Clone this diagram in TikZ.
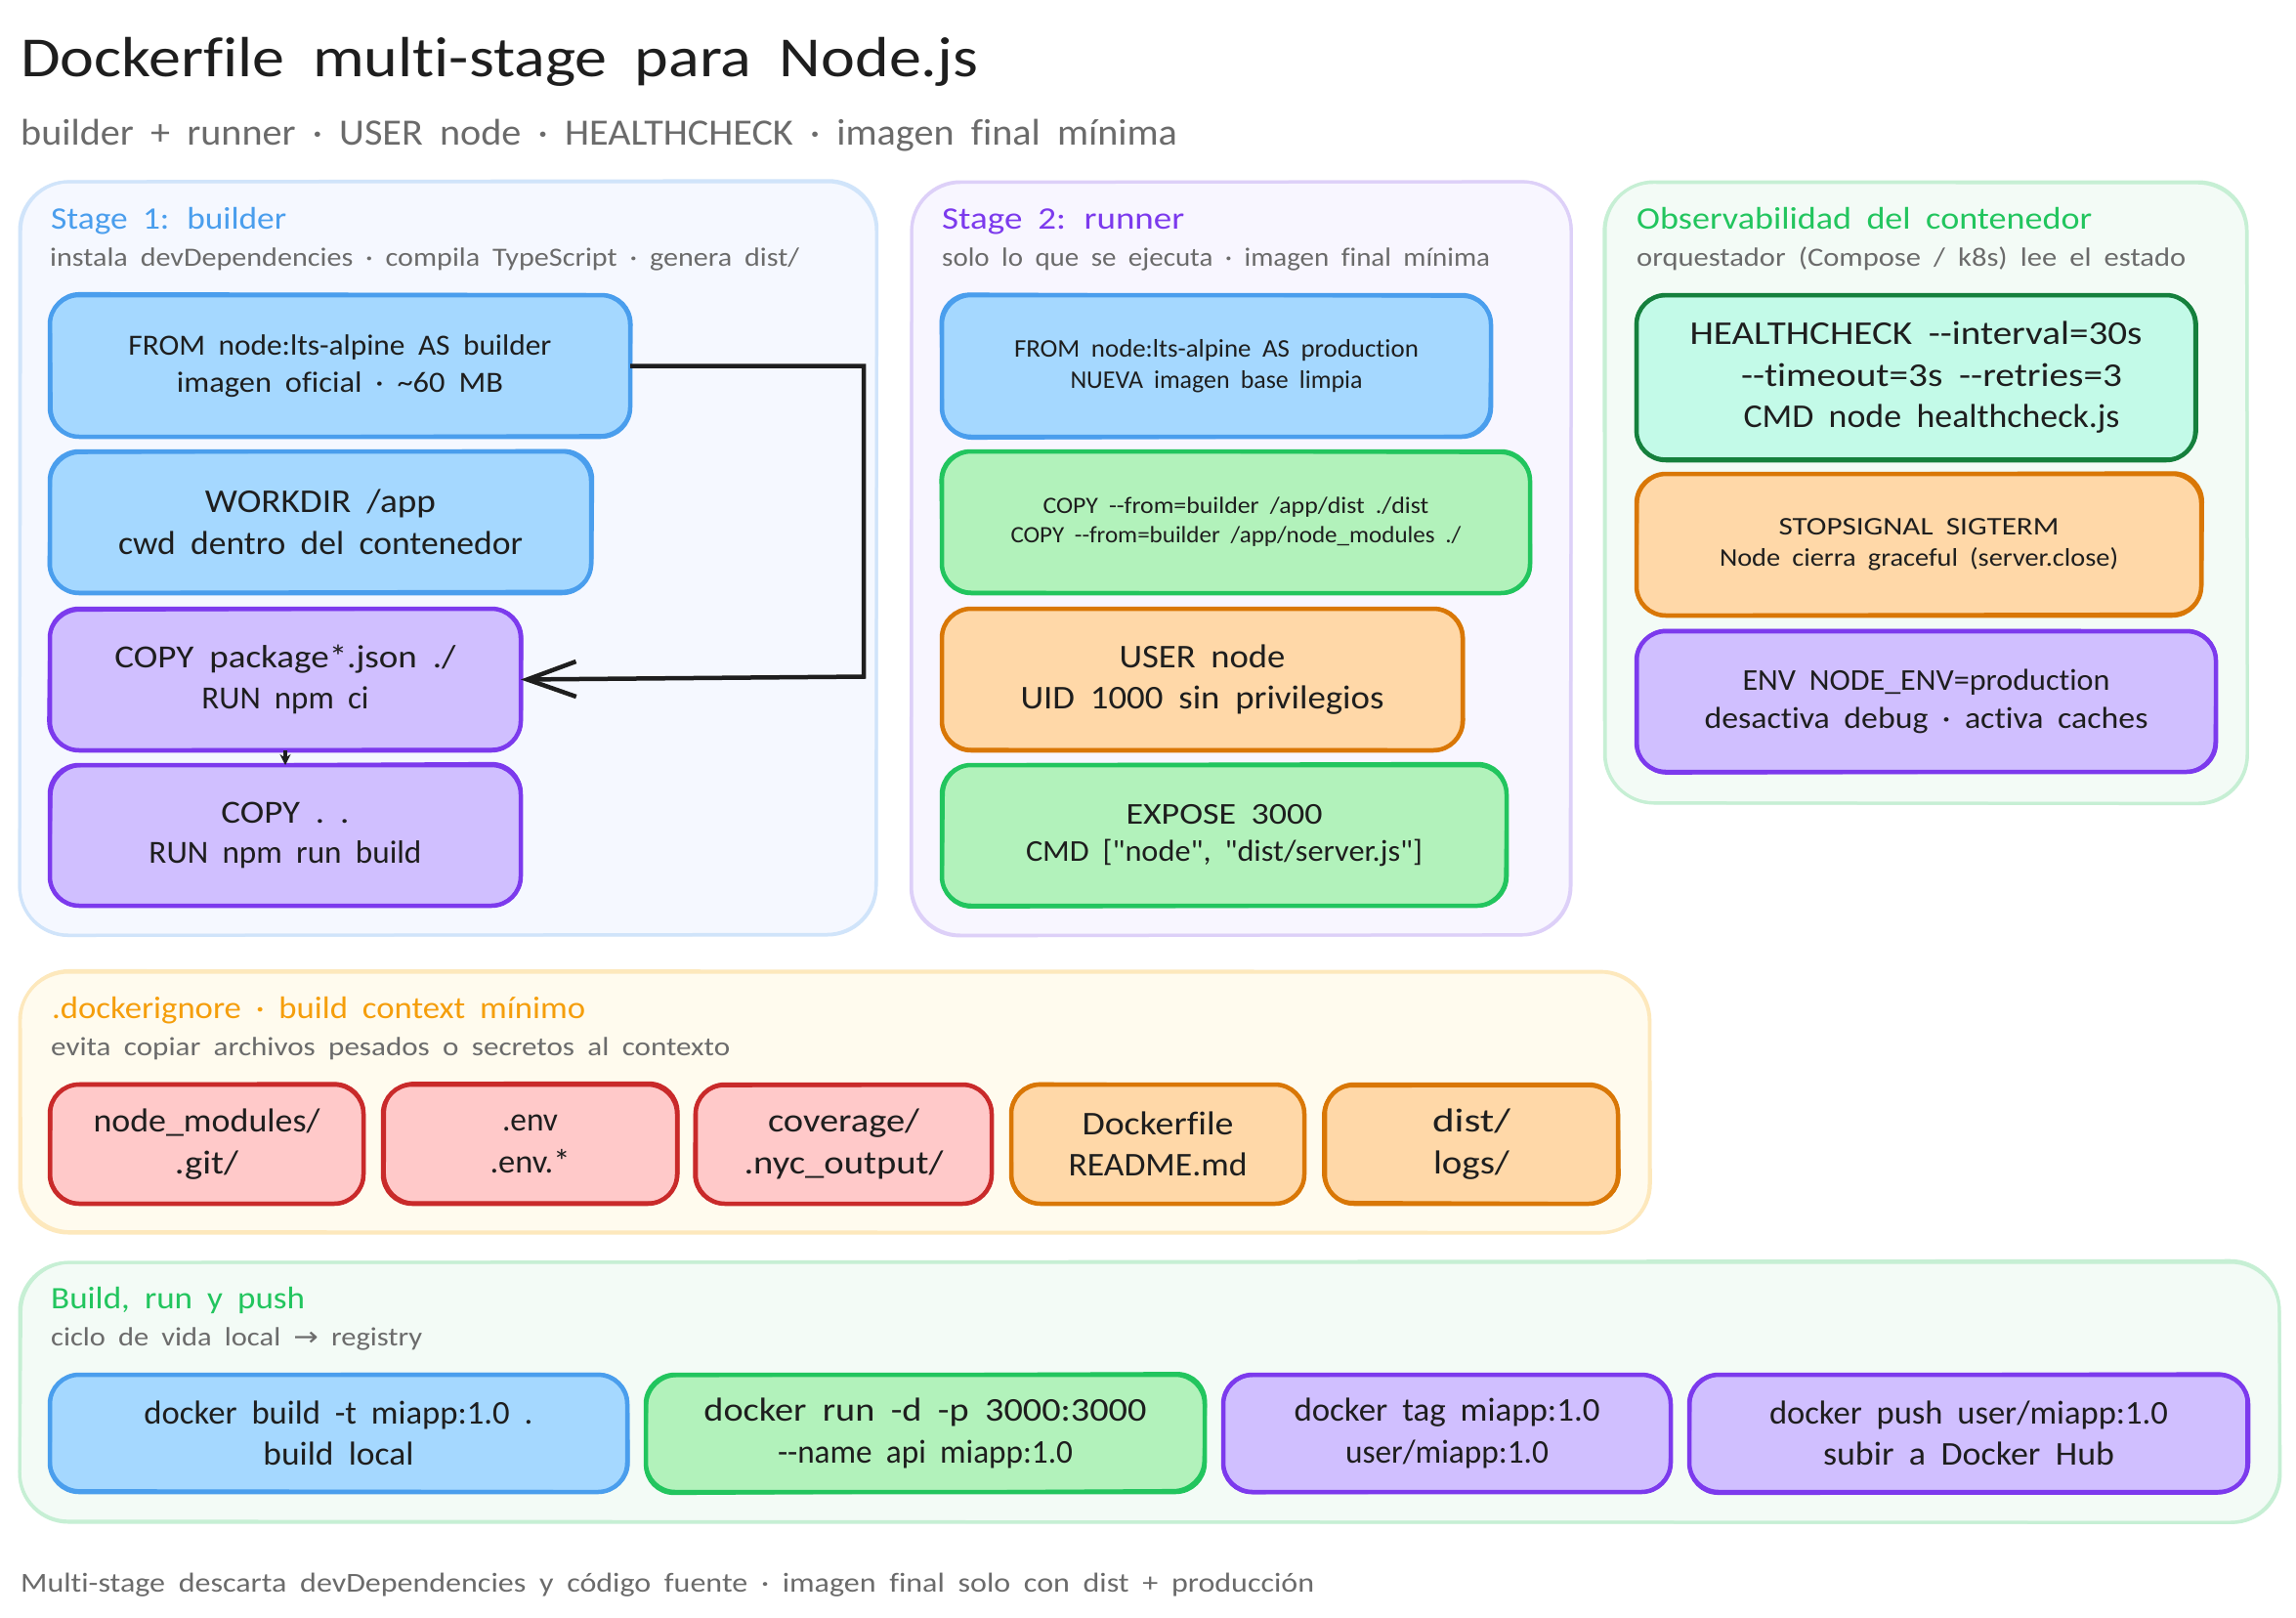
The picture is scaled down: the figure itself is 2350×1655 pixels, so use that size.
\documentclass[tikz,border=0pt]{standalone}
\usepackage{graphicx}
\usepackage{fontspec}
\usetikzlibrary{arrows.meta}
\setmainfont[WordSpace=1.9]{Carlito}
\newfontfamily\hand[WordSpace=1.9,Ligatures=NoCommon]{Carlito}
\newfontfamily\arrowfont{DejaVu Sans}
\newcommand{\fs}[1]{\fontsize{#1}{1.25\dimexpr#1pt\relax}\hand\selectfont}
\newcommand{\fitw}[2]{\resizebox{#1pt}{\height}{#2}}
\definecolor{ink}{HTML}{1E1E1E}
\definecolor{grayt}{HTML}{6B6B6B}
\definecolor{bfill}{HTML}{A5D8FF}\definecolor{bline}{HTML}{4A9EED}
\definecolor{gfill}{HTML}{B2F2BB}\definecolor{gline}{HTML}{22C55E}
\definecolor{pfill}{HTML}{D0BFFF}\definecolor{pline}{HTML}{7C3AED}
\definecolor{ofill}{HTML}{FFD8A8}\definecolor{oline}{HTML}{D97706}
\definecolor{rfill}{HTML}{FFC9C9}\definecolor{rline}{HTML}{C92A2A}
\definecolor{tfill}{HTML}{C3FAE8}\definecolor{tline}{HTML}{15803D}
\definecolor{amber}{HTML}{F59E0B}
\definecolor{panb}{HTML}{F5F8FF}\definecolor{panbl}{HTML}{D0E4FA}
\definecolor{panp}{HTML}{F8F6FF}\definecolor{panpl}{HTML}{DDD0F8}
\definecolor{pang}{HTML}{F3FBF6}\definecolor{pangl}{HTML}{C6EFD4}
\definecolor{pany}{HTML}{FFFBEE}\definecolor{panyl}{HTML}{FDE8BC}
\pgfmathsetseed{11}
% second, slightly misaligned pen stroke along a named node's border
\newcommand{\penstroke}[4]{%
  \pgfmathsetmacro{\oa}{(rand)*#4}\pgfmathsetmacro{\ob}{(rand)*#4}%
  \pgfmathsetmacro{\oc}{(rand)*#4}\pgfmathsetmacro{\od}{(rand)*#4}%
  \draw[draw=#2,line width=3pt,rounded corners=#3pt]
    ([xshift=\oa pt,yshift=\ob pt]#1.north west) -- ([xshift=\oc pt,yshift=\oa pt]#1.north east)
    -- ([xshift=\od pt,yshift=\oc pt]#1.south east) -- ([xshift=\ob pt,yshift=\od pt]#1.south west) -- cycle;}
\tikzset{
  box/.style={draw,line width=4.5pt,rounded corners=30pt,anchor=north west,inner sep=0pt,outer sep=0pt,align=center,text=ink},
  bluebox/.style={box,fill=bfill,draw=bline},
  greenbox/.style={box,fill=gfill,draw=gline},
  purplebox/.style={box,fill=pfill,draw=pline},
  orangebox/.style={box,fill=ofill,draw=oline},
  redbox/.style={box,fill=rfill,draw=rline},
  tealbox/.style={box,fill=tfill,draw=tline},
  panel/.style={draw,line width=3pt,rounded corners=50pt,anchor=north west,inner sep=0pt,outer sep=0pt},
  ptitle/.style={anchor=base west,inner sep=0pt,font=\fs{32}},
  psub/.style={anchor=base west,inner sep=0pt,font=\fs{27},text=grayt},
  conn/.style={draw=ink,line width=4.5pt,line join=miter},
}
\begin{document}
\begin{tikzpicture}[x=1pt,y=-1pt]
\useasboundingbox[fill=white] (0,0) rectangle (2350,1655);
\node[anchor=base west,inner sep=0pt,text=ink,font=\fs{58}] (title) at (21,78) {\fitw{980}{Dockerfile multi-stage para Node.js}};
\node[anchor=base west,inner sep=0pt,text=grayt,font=\fs{38}] (subtitle) at (21,148) {\fitw{1184}{builder + runner · USER node · HEALTHCHECK · imagen final mínima}};

% panels
\node[panel,fill=panb,draw=panbl,minimum width=877pt,minimum height=771pt] (p1) at (20,186) {};
\node[panel,fill=panp,draw=panpl,minimum width=675pt,minimum height=771pt] (p2) at (933,186) {};
\node[panel,fill=pang,draw=pangl,minimum width=657pt,minimum height=636pt] (p3) at (1643,186) {};
\node[panel,fill=pany,draw=panyl,minimum width=1668pt,minimum height=267pt] (p4) at (20,995) {};
\node[panel,fill=pang,draw=pangl,minimum width=2313pt,minimum height=266pt] (p5) at (20,1292) {};
\penstroke{p1}{panbl}{50}{2}\penstroke{p2}{panpl}{50}{2}\penstroke{p3}{pangl}{50}{2}\penstroke{p4}{panyl}{50}{2}\penstroke{p5}{pangl}{50}{2}

% panel labels
\node[ptitle,text=bline] (t1) at (52,234) {\fitw{241}{Stage 1: builder}};
\node[psub] (s1) at (51,272) {\fitw{767}{instala devDependencies · compila TypeScript · genera dist/}};
\node[ptitle,text=pline] (t2) at (964,234) {\fitw{248}{Stage 2: runner}};
\node[psub] (s2) at (964,272) {\fitw{561}{solo lo que se ejecuta · imagen final mínima}};
\node[ptitle,text=gline] (t3) at (1675,234) {\fitw{466}{Observabilidad del contenedor}};
\node[psub] (s3) at (1675,272) {\fitw{562}{orquestador (Compose / k8s) lee el estado}};
\node[ptitle,text=amber] (t4) at (53,1042) {\fitw{546}{.dockerignore · build context mínimo}};
\node[psub] (s4) at (52,1080) {\fitw{695}{evita copiar archivos pesados o secretos al contexto}};
\node[ptitle,text=gline] (t5) at (52,1339) {\fitw{260}{Build, run y push}};
\node[psub] (s5) at (52,1377) {\fitw{380}{ciclo de vida local {\arrowfont→} registry}};

% stage 1
\node[bluebox,minimum width=594pt,minimum height=145pt,font=\fs{30}] (from) at (51,302) {\fitw{433}{FROM node:lts-alpine AS builder}\\\fitw{334}{imagen oficial · \textasciitilde60 MB}};
\node[bluebox,minimum width=554pt,minimum height=145pt,font=\fs{34}] (workdir) at (51,462) {\fitw{236}{WORKDIR /app}\\\fitw{414}{cwd dentro del contenedor}};
\node[purplebox,minimum width=482pt,minimum height=145pt,font=\fs{33}] (pkg) at (51,623) {\fitw{349}{COPY package*.json ./}\\\fitw{171}{RUN npm ci}};
\node[purplebox,minimum width=482pt,minimum height=144pt,font=\fs{33}] (bld) at (51,783) {\fitw{131}{COPY . .}\\\fitw{279}{RUN npm run build}};

% stage 2
\node[bluebox,minimum width=562pt,minimum height=145pt,font=\fs{26}] (from2) at (964,302) {\fitw{414}{FROM node:lts-alpine AS production}\\\fitw{299}{NUEVA imagen base limpia}};
\node[greenbox,minimum width=602pt,minimum height=145pt,font=\fs{24}] (copy2) at (964,462) {\fitw{395}{COPY -{}-from=builder /app/dist ./dist}\\\fitw{461}{COPY -{}-from=builder /app/node\_modules ./}};
\node[orangebox,minimum width=533pt,minimum height=145pt,font=\fs{34}] (user) at (964,623) {\fitw{170}{USER node}\\\fitw{372}{UID 1000 sin privilegios}};
\node[greenbox,minimum width=578pt,minimum height=144pt,font=\fs{31}] (expose) at (964,783) {\fitw{201}{EXPOSE 3000}\\\fitw{406}{CMD ["node", "dist/server.js"]}};

% observability
\node[tealbox,minimum width=572pt,minimum height=169pt,font=\fs{34}] (health) at (1675,302) {\fitw{463}{HEALTHCHECK -{}-interval=30s}\\\hspace*{32pt}\fitw{390}{-{}-timeout=3s -{}-retries=3}\\\hspace*{32pt}\fitw{385}{CMD node healthcheck.js}};
\node[orangebox,minimum width=578pt,minimum height=145pt,font=\fs{26}] (stop) at (1675,485) {\fitw{287}{STOPSIGNAL SIGTERM}\\\fitw{408}{Node cierra graceful (server.close)}};
\node[purplebox,minimum width=593pt,minimum height=144pt,font=\fs{31}] (env) at (1675,646) {\fitw{376}{ENV NODE\_ENV=production}\\\fitw{454}{desactiva debug · activa caches}};

% dockerignore
\node[redbox,minimum width=321pt,minimum height=122pt,font=\fs{34}] (ign1) at (51,1110) {\fitw{232}{node\_modules/}\\\fitw{65}{.git/}};
\node[redbox,minimum width=301pt,minimum height=122pt,font=\fs{34}] (ign2) at (392,1110) {\fitw{57}{.env}\\\fitw{82}{.env.*}};
\node[redbox,minimum width=303pt,minimum height=122pt,font=\fs{34}] (ign3) at (712,1110) {\fitw{155}{coverage/}\\\fitw{204}{.nyc\_output/}};
\node[orangebox,minimum width=300pt,minimum height=122pt,font=\fs{34}] (ign4) at (1035,1110) {\fitw{155}{Dockerfile}\\\fitw{183}{README.md}};
\node[orangebox,minimum width=300pt,minimum height=122pt,font=\fs{34}] (ign5) at (1356,1110) {\fitw{80}{dist/}\\\fitw{78}{logs/}};

% build
\node[bluebox,minimum width=591pt,minimum height=120pt,font=\fs{34}] (b1) at (51,1407) {\fitw{398}{docker build -t miapp:1.0 .}\\\fitw{154}{build local}};
\node[greenbox,minimum width=572pt,minimum height=120pt,font=\fs{34}] (b2) at (661,1407) {\fitw{453}{docker run -d -p 3000:3000}\\\fitw{302}{-{}-name api miapp:1.0}};
\node[purplebox,minimum width=458pt,minimum height=120pt,font=\fs{34}] (b3) at (1252,1407) {\fitw{313}{docker tag miapp:1.0}\\\fitw{208}{user/miapp:1.0}};
\node[purplebox,minimum width=572pt,minimum height=120pt,font=\fs{34}] (b4) at (1729,1407) {\fitw{408}{docker push user/miapp:1.0}\\\fitw{298}{subir a Docker Hub}};

% pen strokes on the boxes
\penstroke{from}{bline}{30}{2}\penstroke{workdir}{bline}{30}{2}\penstroke{pkg}{pline}{30}{2}\penstroke{bld}{pline}{30}{2}
\penstroke{from2}{bline}{30}{2}\penstroke{copy2}{gline}{30}{2}\penstroke{user}{oline}{30}{2}\penstroke{expose}{gline}{30}{2}
\penstroke{health}{tline}{30}{2}\penstroke{stop}{oline}{30}{2}\penstroke{env}{pline}{30}{2}
\penstroke{ign1}{rline}{30}{2}\penstroke{ign2}{rline}{30}{2}\penstroke{ign3}{rline}{30}{2}\penstroke{ign4}{oline}{30}{2}\penstroke{ign5}{oline}{30}{2}
\penstroke{b1}{bline}{30}{2}\penstroke{b2}{gline}{30}{2}\penstroke{b3}{pline}{30}{2}\penstroke{b4}{pline}{30}{2}

\node[anchor=base west,inner sep=0pt,text=grayt,font=\fs{28}] (foot) at (21,1629) {\fitw{1324}{Multi-stage descarta devDependencies y código fuente · imagen final solo con dist + producción}};

% connectors
\coordinate (bend) at (884,500);
\draw[conn,-{Straight Barb[length=50pt,width=36pt]}] (from.east) -- (from.east -| bend) -- ([yshift=3pt]pkg.east -| bend) -- (pkg.east);
\draw[draw=ink,line width=3.5pt,-{Stealth[length=11pt,width=11pt]}] (pkg.south) -- (bld.north);
\end{tikzpicture}
\end{document}
